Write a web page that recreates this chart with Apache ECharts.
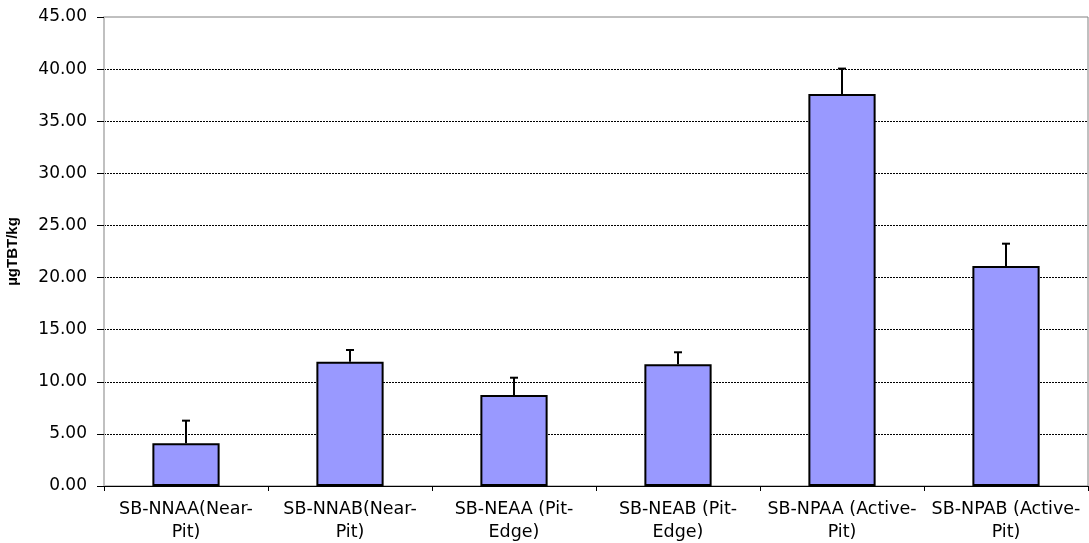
<!DOCTYPE html>
<html>
<head>
<meta charset="utf-8">
<script src="https://cdn.jsdelivr.net/npm/echarts@6/dist/echarts.min.js"></script>
<style>
html,body{margin:0;padding:0;background:#fff;}
#chart{width:1089px;height:543px;}
</style>
</head>
<body>
<div id="chart"></div>
<script>
const categories = ["SB-NNAA(Near-\nPit)", "SB-NNAB(Near-\nPit)", "SB-NEAA (Pit-\nEdge)", "SB-NEAB (Pit-\nEdge)", "SB-NPAA (Active-\nPit)", "SB-NPAB (Active-\nPit)"];
const values = [4.10, 11.93, 8.73, 11.68, 37.62, 21.11];
const errors = [2.17, 1.12, 1.66, 1.15, 2.43, 2.14];
const yTicks = {min: 0, max: 45, interval: 5};

const chart = echarts.init(document.getElementById('chart'));
const errData = values.map((v, i) => [i, v, v + errors[i]]);
chart.setOption({
  animation: false,
  grid: {left: 104, top: 17, right: 1, bottom: 57, outerBoundsMode: 'none', containLabel: false, show: true, borderColor: '#808080', borderWidth: 1, backgroundColor: 'transparent'},
  xAxis: {
    type: 'category', data: categories,
    axisLine: {lineStyle: {color: '#000', width: 1}},
    axisTick: {show: true, length: 5, lineStyle: {color: '#000'}},
    axisLabel: {color: '#000', fontSize: 17.5, fontFamily: 'DejaVu Sans', margin: 12, lineHeight: 23, interval: 0}
  },
  yAxis: {
    type: 'value', min: yTicks.min, max: yTicks.max, interval: yTicks.interval,
    name: 'µgTBT/kg', nameLocation: 'middle', nameGap: 84,
    nameTextStyle: {fontWeight: 'bold', fontSize: 15, color: '#000', fontFamily: 'Liberation Sans, Arial'},
    axisLine: {show: true, lineStyle: {color: '#c0c0c0', width: 2}},
    axisTick: {show: true, length: 7, lineStyle: {color: '#000'}},
    axisLabel: {color: '#000', fontSize: 17, fontFamily: 'DejaVu Sans', margin: 17, formatter: v => v.toFixed(2)},
    splitLine: {show: true, showMaxLine: false, lineStyle: {color: '#000', type: [2, 1], width: 1}}
  },
  series: [
    {
      type: 'bar', data: values, barWidth: '41%',
      itemStyle: {color: '#9999ff', borderColor: '#000', borderWidth: 2}
    },
    {
      type: 'custom', data: errData, z: 10,
      renderItem: function (params, api) {
        const x = api.coord([api.value(0), api.value(1)]);
        const top = api.coord([api.value(0), api.value(2)]);
        const style = {stroke: '#000', lineWidth: 2};
        return {type: 'group', children: [
          {type: 'line', shape: {x1: x[0], y1: x[1], x2: x[0], y2: top[1]}, style: style},
          {type: 'line', shape: {x1: x[0] - 4, y1: top[1], x2: x[0] + 4, y2: top[1]}, style: style}
        ]};
      }
    }
  ]
});
</script>
</body>
</html>
